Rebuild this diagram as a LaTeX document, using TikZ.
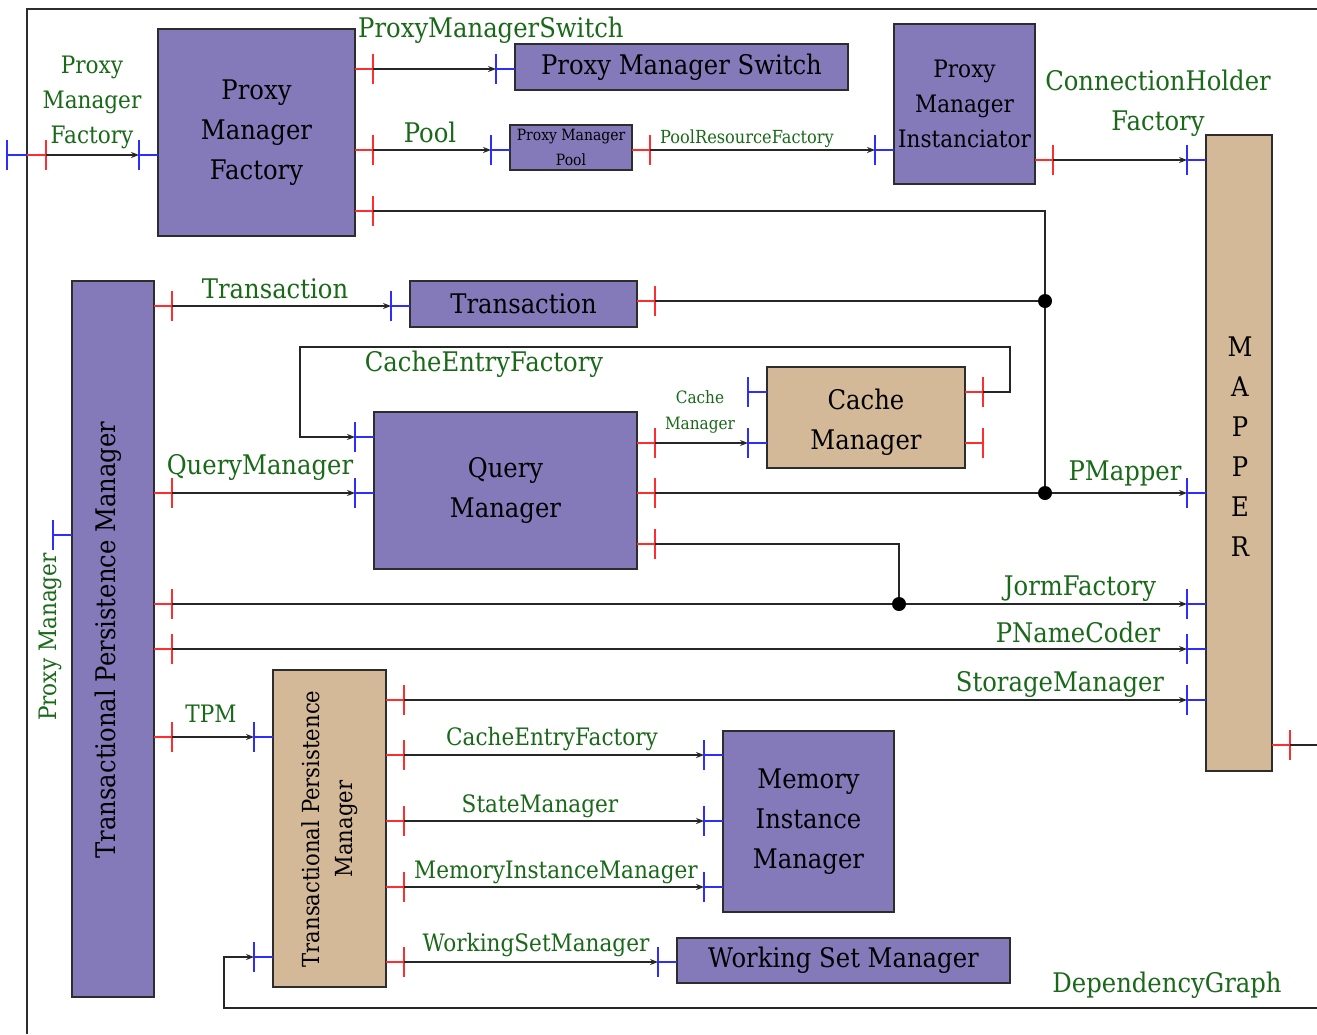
\documentclass[tikz,border=0pt]{standalone}
\usepackage{fontspec}
\setmainfont{DejaVu Serif}[FakeStretch=0.9]
\usetikzlibrary{arrows.meta}
\definecolor{boxpurple}{RGB}{132,122,186}
\definecolor{boxtan}{RGB}{212,185,152}
\definecolor{lblgreen}{RGB}{25,105,25}
\definecolor{portred}{RGB}{255,45,45}
\definecolor{portblue}{RGB}{45,45,255}
\definecolor{edgegray}{RGB}{45,45,45}
\newcommand\fsz[2]{\fontsize{#1}{#2}\selectfont}
\newcommand\oport[3]{\draw[outp] (#2,#3) -- ++(18,0) coordinate (#1) ++(0,-15) -- ++(0,30);}
\newcommand\iport[3]{\draw[inp] (#2,#3) -- ++(-19,0) coordinate (#1) ++(0,-15) -- ++(0,30);}
\tikzset{
  pbox/.style={draw=edgegray, line width=1.5pt, fill=boxpurple, inner sep=0pt, align=center, font=\fsz{27}{40}},
  tbox/.style={pbox, fill=boxtan},
  boxtxt/.style={inner sep=0pt, align=center, font=\fsz{27}{40}},
  lbl/.style={text=lblgreen, inner sep=0pt, align=center, font=\fsz{27}{40}},
  lblm/.style={lbl, font=\fsz{24}{35}},
  lbls/.style={lbl, font=\fsz{17}{26}},
  conn/.style={draw=black!85, line width=1.2pt},
  arr/.style={conn, -{Stealth[length=8pt,width=6pt]}},
  outp/.style={draw=portred, line width=1.3pt},
  inp/.style={draw=portblue, line width=1.3pt},
  dot/.style={fill=black}
}
\begin{document}
\begin{tikzpicture}[x=1pt,y=-1pt]
\fill[white] (0,0) rectangle (1317,1034);
\useasboundingbox (0,0) rectangle (1317,1034);
% outer frame
\draw[draw=edgegray, line width=1.5pt] (27,1034) -- (27,9) -- (1317,9);

% boxes
\node[pbox, minimum width=197pt, minimum height=207pt] (pmf) at (256.5,132.5) {Proxy\\Manager\\Factory};
\node[pbox, minimum width=333pt, minimum height=46pt] (pms) at (681.5,67) {\raisebox{-3pt}{Proxy Manager Switch}};
\node[pbox, minimum width=122pt, minimum height=45pt, font=\fsz{15.5}{25}] (pool) at (571,147.5) {Proxy Manager\\Pool};
\node[pbox, minimum width=141pt, minimum height=160pt, font=\fsz{24}{35}] (pmi) at (964.5,104) {Proxy\\Manager\\Instanciator};
\node[tbox, minimum width=66pt, minimum height=636pt] (map) at (1239,453) {};
\node[boxtxt] (map-t) at (1240,447) {M\\A\\P\\P\\E\\R};
\node[pbox, minimum width=82pt, minimum height=716pt] (tpmb) at (113,639) {};
\node[boxtxt, rotate=90] (tpmb-t) at (108,640) {Transactional Persistence Manager};
\node[pbox, minimum width=227pt, minimum height=46pt] (tr) at (523.5,304) {Transaction};
\node[pbox, minimum width=263pt, minimum height=157pt] (qm) at (505.5,490.5) {Query\\Manager};
\node[tbox, minimum width=198pt, minimum height=101pt] (cm) at (866,417.5) {};
\node[boxtxt] (cm-t) at (866,422) {Cache\\Manager};
\node[tbox, minimum width=113pt, minimum height=317pt] (tpms) at (329.5,828.5) {};
\node[boxtxt, rotate=90, font=\fsz{23.5}{33}] (tpms-t) at (329.5,829) {Transactional Persistence\\Manager};
\node[pbox, minimum width=171pt, minimum height=181pt] (mim) at (808.5,821.5) {Memory\\Instance\\Manager};
\node[pbox, minimum width=333pt, minimum height=45pt] (wsm) at (843.5,960.5) {\raisebox{-2pt}{Working Set Manager}};

% ports
\draw[inp] (27,155) -- (7,155) coordinate (ext-i) ++(0,-15) -- ++(0,30);
\draw[outp] (27,155) -- (46,155) coordinate (ext-o) ++(0,-15) -- ++(0,30);
\iport{pmf-i}{158}{155}
\oport{pmf-o1}{355}{69}
\oport{pmf-o2}{355}{150}
\oport{pmf-o3}{355}{211}
\iport{pms-i}{515}{69}
\iport{pool-i}{510}{150}
\oport{pool-o}{632}{150}
\iport{pmi-i}{894}{150}
\oport{pmi-o}{1035}{160}
\iport{map-i1}{1206}{160}
\iport{map-i2}{1206}{493}
\iport{map-i3}{1206}{604}
\iport{map-i4}{1206}{649}
\iport{map-i5}{1206}{700}
\oport{map-o}{1272}{745}
\iport{tpmb-i}{72}{535}
\oport{tpmb-o1}{154}{306}
\oport{tpmb-o2}{154}{493}
\oport{tpmb-o3}{154}{604}
\oport{tpmb-o4}{154}{649}
\oport{tpmb-o5}{154}{737}
\iport{tr-i}{410}{306}
\oport{tr-o}{637}{301}
\iport{qm-i1}{374}{437}
\iport{qm-i2}{374}{493}
\oport{qm-o1}{637}{443}
\oport{qm-o2}{637}{493}
\oport{qm-o3}{637}{544}
\iport{cm-i1}{767}{392}
\iport{cm-i2}{767}{443}
\oport{cm-o1}{965}{392}
\oport{cm-o2}{965}{443}
\iport{tpms-i1}{273}{737}
\iport{tpms-i2}{273}{957}
\oport{tpms-o1}{386}{700}
\oport{tpms-o2}{386}{755}
\oport{tpms-o3}{386}{821}
\oport{tpms-o4}{386}{887}
\oport{tpms-o5}{386}{962}
\iport{mim-i1}{723}{755}
\iport{mim-i2}{723}{821}
\iport{mim-i3}{723}{887}
\iport{wsm-i}{677}{962}

% junctions
\coordinate (j1) at (1045,301);
\coordinate (j2) at (1045,493);
\coordinate (j3) at (899,604);

% connectors
\draw[arr] (ext-o) -- (pmf-i);
\draw[arr] (pmf-o1) -- (pms-i);
\draw[arr] (pmf-o2) -- (pool-i);
\draw[arr] (pool-o) -- (pmi-i);
\draw[arr] (pmi-o) -- (map-i1);
\draw[conn] (pmf-o3) -| (j2);
\draw[conn] (tr-o) -- (j1);
\draw[arr] (tpmb-o1) -- (tr-i);
\draw[arr] (cm-o1) -| (1010,347) -| (300,437) -- (qm-i1);
\draw[arr] (qm-o1) -- (cm-i2);
\draw[arr] (tpmb-o2) -- (qm-i2);
\draw[arr] (qm-o2) -- (map-i2);
\draw[conn] (qm-o3) -| (j3);
\draw[arr] (tpmb-o3) -- (map-i3);
\draw[arr] (tpmb-o4) -- (map-i4);
\draw[arr] (tpms-o1) -- (map-i5);
\draw[conn] (map-o) -- (1317,745);
\draw[arr] (tpmb-o5) -- (tpms-i1);
\draw[arr] (tpms-o2) -- (mim-i1);
\draw[arr] (tpms-o3) -- (mim-i2);
\draw[arr] (tpms-o4) -- (mim-i3);
\draw[arr] (tpms-o5) -- (wsm-i);
\draw[arr] (1317,1008) -- (224,1008) |- (tpms-i2);
\fill[dot] (j1) circle[radius=7pt];
\fill[dot] (j2) circle[radius=7pt];
\fill[dot] (j3) circle[radius=7pt];

% labels
\node[lblm] (l-pmf) at (92,102) {Proxy\\Manager\\Factory};
\node[lbl, anchor=base west] (l-pms) at (358,37) {ProxyManagerSwitch};
\node[lbl, anchor=base] (l-pool) at (430,142) {Pool};
\node[lbls, font=\fsz{18}{26}, anchor=base] (l-prf) at (747,143) {PoolResourceFactory};
\node[lbls] (l-cm) at (700,412) {Cache\\Manager};
\node[lbl] (l-chf) at (1158,103) {ConnectionHolder\\Factory};
\node[lbl, anchor=base] (l-tr) at (275,298) {Transaction};
\node[lbl, anchor=base] (l-cef1) at (484,371) {CacheEntryFactory};
\node[lbl, anchor=base] (l-qm) at (260,474) {QueryManager};
\node[lbl, anchor=base] (l-pmap) at (1125,480) {PMapper};
\node[lbl, anchor=base] (l-jorm) at (1080,595) {JormFactory};
\node[lbl, anchor=base] (l-pnc) at (1078,642) {PNameCoder};
\node[lbl, anchor=base] (l-sm) at (1060,691) {StorageManager};
\node[lblm, rotate=90] (l-pm) at (50,637) {Proxy Manager};
\node[lblm, anchor=base] (l-tpm) at (211,722) {TPM};
\node[lblm, anchor=base] (l-cef2) at (552,745) {CacheEntryFactory};
\node[lblm, anchor=base] (l-stm) at (540,812) {StateManager};
\node[lblm, anchor=base] (l-mimg) at (556,878) {MemoryInstanceManager};
\node[lblm, anchor=base] (l-wsmg) at (536,951) {WorkingSetManager};
\node[lbl, anchor=base] (l-dg) at (1167,992) {DependencyGraph};
\end{tikzpicture}
\end{document}
